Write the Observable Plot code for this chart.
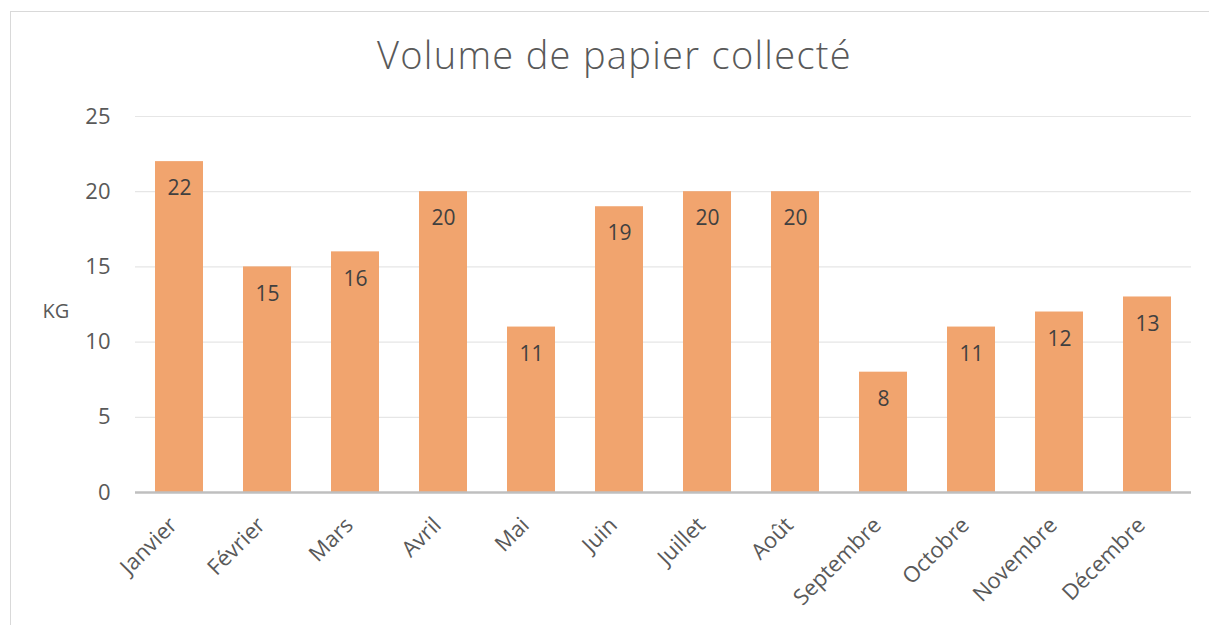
<!DOCTYPE html>
<html>
<head>
<meta charset="utf-8">
<script src="https://cdn.jsdelivr.net/npm/d3@7"></script>
<script src="https://cdn.jsdelivr.net/npm/@observablehq/plot@0.6"></script>
<style>
  html, body { margin: 0; padding: 0; background: #fff; }
  #wrap { position: relative; width: 1209px; height: 625px; overflow: hidden; }
  #border { position: absolute; left: 10px; top: 11px; width: 1300px; height: 700px;
            border-left: 1.5px solid #d9d9d9; border-top: 1.5px solid #d9d9d9; pointer-events: none; }
</style>
</head>
<body>
<div id="wrap"><div id="border"></div></div>
<script>
const title = "Volume de papier collecté";
const yLabel = "KG";
const months = ["Janvier", "Février", "Mars", "Avril", "Mai", "Juin", "Juillet", "Août", "Septembre", "Octobre", "Novembre", "Décembre"];
const values = [22, 15, 16, 20, 11, 19, 20, 20, 8, 11, 12, 13];
const yTicks = [0, 5, 10, 15, 20, 25];

const data = months.map((m, i) => ({month: m, value: values[i]}));
const font = "'Open Sans', 'Noto Sans', sans-serif";

const chart = Plot.plot({
  width: 1209,
  height: 625,
  marginLeft: 135,
  marginRight: 18,
  marginTop: 116,
  marginBottom: 133,
  style: {fontFamily: font, fontSize: "21px", color: "#595959", background: "transparent"},
  x: {domain: months, paddingInner: 0.45, paddingOuter: 0.225, align: 0.5},
  y: {domain: [0, 25]},
  marks: [
    Plot.gridY(yTicks, {stroke: "#e6e6e6", strokeOpacity: 1, strokeWidth: 1.2}),
    Plot.axisY(yTicks, {tickSize: 0, tickPadding: 25, label: null, fontSize: 22, fill: "#595959"}),
    Plot.axisX({tickSize: 0, tickRotate: -45, tickPadding: 29, dx: -6, label: null, fontSize: 22, fill: "#595959"}),
    Plot.barY(data, {x: "month", y: "value", fill: "#F1A46E"}),
    Plot.ruleY([0], {stroke: "#bfbfbf", strokeWidth: 2.5}),
    Plot.text(data, {x: "month", y: "value", text: d => String(d.value), dy: 27, fill: "#404040", fontSize: 21}),
    Plot.text([yLabel], {frameAnchor: "left", textAnchor: "start", lineAnchor: "middle", dx: -93, dy: 7, fill: "#595959", fontSize: 20}),
    Plot.text([title], {frameAnchor: "top", lineAnchor: "top", dx: -49, dy: -74, fill: "#595959", fontSize: 38, fontWeight: 300})
  ]
});
d3.select(chart).selectAll("text").filter(function() { return this.textContent === title; })
  .attr("letter-spacing", "1.3px");
document.getElementById("wrap").prepend(chart);
</script>
</body>
</html>
